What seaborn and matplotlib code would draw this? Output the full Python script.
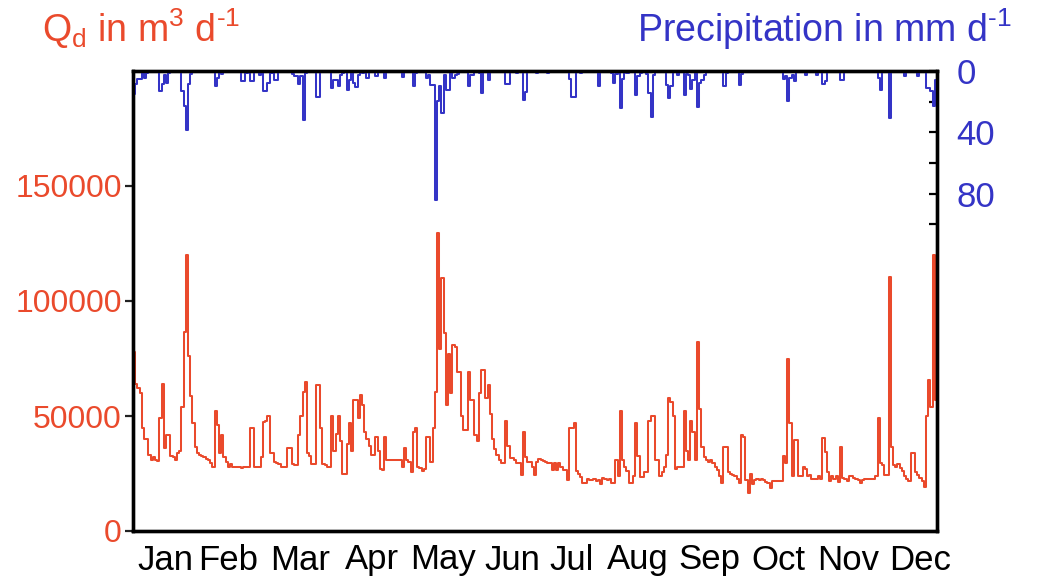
import numpy as np
import pandas as pd
import matplotlib
matplotlib.use("Agg")
import matplotlib.pyplot as plt
import seaborn as sns

# ---------------- data (daily discharge in 1000 m3/d, precipitation in mm/d) -------------
months = ["Jan", "Feb", "Mar", "Apr", "May", "Jun", "Jul", "Aug", "Sep", "Oct", "Nov", "Dec"]

q_jan = [78, 64, 62, 60, 44.6, 40, 40, 33, 31, 32, 31, 30.5, 49, 64, 36, 41.7, 41.7, 32.6, 32, 31,
         34, 35, 54, 86.6, 120, 76, 58.7, 47, 36.7, 34, 33]
q_feb = [32.5, 32, 31.5, 31, 29.5, 28, 52, 46, 34, 41.7, 32, 30, 28, 29, 28, 28, 27.8, 27.7, 27.5,
         27.7, 27.8, 28, 45, 45, 27.7, 27.7, 28, 32]
q_mar = [47.5, 48, 50, 34, 34, 30, 29.5, 29, 27.7, 27.7, 28, 36, 36, 29, 28.5, 28.5, 41.7, 50, 60.5,
         65, 34, 32.5, 29, 29, 63.5, 63.5, 45, 29, 28.5, 28, 28]
q_apr = [50, 35, 42, 50, 39, 25, 25, 38, 46.8, 35, 57, 57, 49, 59, 55, 43, 40, 37, 33, 33, 41, 35,
         27, 26.5, 41, 31, 31, 31, 31, 31]
q_may = [31, 31, 28, 36, 31, 30, 25.8, 43, 45, 28, 27.5, 26, 27, 41, 41, 30, 45, 60.5, 129.7, 79,
         110, 86, 55, 77, 60, 81, 80, 69, 69, 50, 44]
q_jun = [44, 69, 57, 57, 41.7, 39, 60, 70, 70, 58, 63.5, 51, 40, 35.5, 33, 31, 29.7, 29.7, 48, 37,
         31.6, 31.6, 31, 29.4, 29.4, 24.3, 43, 32, 30, 30]
q_jul = [27.7, 24.3, 30, 31.5, 31, 30.5, 30, 29.5, 29.5, 26.7, 29.5, 26.7, 29.5, 27.7, 26.5, 26.5,
         22, 45, 45, 47, 26, 25, 23.5, 21, 21, 22.5, 22, 22, 22.5, 21.7, 22]
q_aug = [20.4, 23, 22.5, 22, 22.5, 21, 21, 31, 24, 52, 31, 28, 26, 21, 21, 24, 47, 32.5, 23.5, 23.5,
         25.8, 25.8, 48, 50, 50, 31, 31, 24, 25.5, 28, 33]
q_sep = [58, 56, 50, 27, 28, 28, 28, 52, 35, 31, 48, 43, 31, 82.3, 53, 36.7, 32.3, 31, 30, 31, 29.5,
         28, 26.5, 24, 20.7, 36.7, 36.7, 25.8, 24.8, 24.3]
q_oct = [23.8, 22.5, 20.7, 41.7, 41, 22, 16.7, 24.8, 20.4, 22, 22.5, 22, 22.5, 22.2, 21.5, 20.7, 18.8,
         21.9, 21.9, 21.9, 21.9, 21.9, 32.6, 29.5, 74.6, 46.8, 23.9, 39.5, 39.5, 24, 24]
q_nov = [27.7, 27, 24, 24.5, 22.7, 22.7, 22.7, 24, 22.7, 40.5, 34.5, 25.5, 21.9, 24, 22.7, 24, 21.5,
         36.7, 23, 22.7, 21.9, 24, 24, 23.2, 22.7, 22.3, 20.7, 22.3, 22.7, 22.7]
q_dec = [22.7, 22.7, 22.7, 24, 49, 29.5, 28.8, 24.3, 24.3, 110.3, 36.7, 28.8, 27.8, 29.2, 27.5, 26,
         23.8, 22.7, 21.9, 34, 34, 25.8, 24.3, 23.2, 21.9, 19, 50, 65.6, 54, 120, 57]

p_jan = [15, 8.4, 5.4, 5.4, 1.5, 4.7, 1, 0.5, 0, 0.3, 0, 0, 13.3, 8.4, 2.6, 8, 1, 0, 0, 0, 0, 0.5,
         13.3, 23, 38.7, 8.4, 2, 0.5, 0, 0, 0]
p_feb = [0, 0, 0, 0, 0, 0, 9.7, 4.7, 0.5, 2, 0.5, 0.5, 0.5, 0, 0, 0, 0, 0, 6.5, 6.5, 1, 0.5, 6.5,
         6.5, 0.5, 0.5, 2.6, 0.3]
p_mar = [13.3, 13.3, 7.5, 1, 1, 5.8, 5.8, 0.5, 0, 0, 0, 0.5, 0.5, 2, 3, 3, 8.4, 3, 32, 1, 0, 0, 0,
         0, 17, 17, 0.5, 0, 0, 0, 0]
p_apr = [11, 5.8, 5.8, 9.7, 2.6, 1, 0.5, 12.3, 6, 1, 7.5, 10.5, 2.6, 0.5, 1, 0.5, 4.7, 0.5, 0, 0,
         3.2, 0.3, 0, 0, 4.7, 0.5, 0, 0, 0, 0]
p_may = [0, 0, 3.7, 0.5, 0.3, 0, 0.5, 10, 1.5, 0, 0.3, 0, 0.5, 4.7, 2.5, 9, 9, 84, 19.8, 9.7, 27.3,
         2.6, 12.3, 12.3, 1.5, 4.7, 2.6, 2, 0, 0, 0]
p_jun = [0.5, 10, 2.6, 2.6, 0.5, 0.5, 1, 14.4, 0.5, 0.5, 5.8, 0, 0, 0, 0, 0, 0, 0, 8.4, 8.4, 0, 0,
         0, 1.5, 0.5, 0.5, 18.7, 14, 0, 0]
p_jul = [0, 0, 1.5, 0, 0, 0, 0, 1.5, 0, 0, 0, 0, 0, 0, 0, 0, 0, 5.4, 17, 17, 0.5, 0, 1.5, 0, 0, 0,
         0, 0, 0, 0, 10]
p_aug = [0, 0, 0, 0, 0, 1, 7.5, 2, 0.5, 24, 5, 0.5, 1, 0, 0, 0.5, 15.5, 3, 1.5, 0.5, 0.5, 2, 14.4,
         30, 2.6, 0.5, 0.5, 0, 0, 0, 9]
p_sep = [17.6, 10, 0.5, 0.5, 2.6, 0.5, 0, 15.5, 2, 2.6, 11.8, 5.8, 0.5, 23.4, 8, 5.8, 2.6, 0.5, 0,
         0, 0, 0, 0, 0, 0, 10, 1, 0, 0, 0]
p_oct = [0, 0, 9, 2, 0.5, 0, 0, 0, 0, 0, 0, 0, 0, 0, 0, 0, 0, 0, 0, 0, 0, 0, 5.4, 3, 19.8, 4.7, 2.6,
         6.2, 0.5, 0, 0.5]
p_nov = [0, 2.6, 0.3, 0, 0, 0, 2.6, 0.5, 0, 8.4, 6.5, 0, 0, 0, 0, 0, 0, 5.8, 5.8, 0, 0, 0, 0, 0.3,
         0, 0, 0, 0, 0, 0]
p_dec = [0, 0, 0, 0.5, 4.7, 12.7, 0.5, 0, 0, 30.5, 0.5, 0, 0, 0, 0, 0.5, 3, 0, 0, 0, 0.5, 0.5, 3,
         0, 0, 0, 11, 11, 13.3, 23, 5.8]

q_ticks = [0, 50000, 100000, 150000]
p_major_ticks = [0, 40, 80]
p_minor_ticks = [20, 60, 100]

# ---------------- assemble ----------------
q = np.array(q_jan + q_feb + q_mar + q_apr + q_may + q_jun + q_jul + q_aug + q_sep + q_oct
             + q_nov + q_dec) * 1000.0
p = np.array(p_jan + p_feb + p_mar + p_apr + p_may + p_jun + p_jul + p_aug + p_sep + p_oct
             + p_nov + p_dec)
n = len(q)
day = np.arange(n + 1)
df = pd.DataFrame({"day": day, "Q": np.append(q, q[-1]), "P": np.append(p, p[-1])})

# ---------------- style ----------------
sns.set_style("white")
plt.rcParams["font.family"] = ["Liberation Sans", "DejaVu Sans"]
plt.rcParams["mathtext.default"] = "regular"

RED = "#EA4A2C"
BLUE = "#3434C6"

fig = plt.figure(figsize=(10.38, 5.80), dpi=100)
ax = fig.add_axes([133 / 1038, 1 - 531 / 580, (937 - 133) / 1038, (531 - 71) / 580])

sns.lineplot(data=df, x="day", y="Q", ax=ax, color=RED, linewidth=1.45,
             drawstyle="steps-post", errorbar=None)
ax.set_xlim(0, n)
ax.set_ylim(0, 200000)
ax.set_yticks(q_ticks)
ax.set_yticklabels([str(v) for v in q_ticks])
ax.tick_params(axis="y", direction="out", length=6, width=1.6, color="#222222",
               labelsize=23, labelcolor=RED, pad=2)
ax.set_xlabel("")
ax.set_ylabel("")

# month labels (positions as in the original layout)
month_pos = [14.5, 43.3, 75.8, 108.5, 140.7, 172.1, 199.0, 229.3, 261.5, 292.8, 324.6, 357.3]
ax.set_xticks(month_pos)
ax.set_xticklabels(months)
ax.tick_params(axis="x", length=0, labelsize=25, labelcolor="black", pad=9)

ax2 = ax.twinx()
sns.lineplot(data=df, x="day", y="P", ax=ax2, color=BLUE, linewidth=1.45,
             drawstyle="steps-post", errorbar=None)
ax2.set_ylim(300, 0)
ax2.set_xlim(0, n)
ax2.set_yticks(p_major_ticks)
ax2.set_yticklabels([str(v) for v in p_major_ticks])
ax2.set_yticks(p_minor_ticks, minor=True)
ax2.tick_params(axis="y", which="both", direction="in", length=6, width=1.6, color="black",
                labelsize=25, labelcolor=BLUE, pad=14)
ax2.tick_params(axis="y", which="minor", labelright=False)
ax2.set_ylabel("")
ax2.set_xlabel("")

for a in (ax, ax2):
    for s in a.spines.values():
        s.set_visible(True)
        s.set_color("black")
        s.set_linewidth(2.4)

HY = "\u2010"
fig.text(42 / 1038, 1 - 42 / 580, "Q$_{d}$ in m$^{3}$ d$^{" + HY + "1}$", color=RED,
         fontsize=27, ha="left", va="baseline")
fig.text(1012 / 1038, 1 - 42 / 580, "Precipitation in mm d$^{" + HY + "1}$", color=BLUE,
         fontsize=27, ha="right", va="baseline")

fig.savefig("out.png", dpi=100)
